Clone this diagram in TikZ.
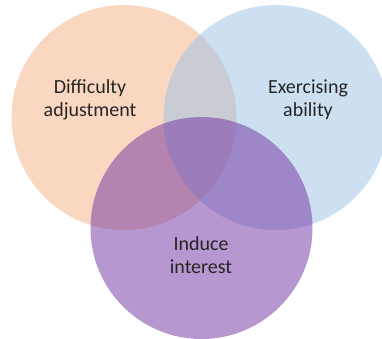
\documentclass[tikz,border=0pt]{standalone}
\usepackage{fontspec}
\setmainfont{Carlito}
\begin{document}
\begin{tikzpicture}[x=1pt,y=-1pt,
  venn/.style={fill opacity=0.5, draw=none},
  label/.style={align=center, text=black!85, font=\fontsize{20}{23}\selectfont}]
\definecolor{vorange}{HTML}{F4B183}
\definecolor{vblue}{HTML}{9DC3E6}
\definecolor{vpurple}{HTML}{7030A0}
\useasboundingbox (0,0) rectangle (382,339);
\fill[white] (0,0) rectangle (382,339);
% three overlapping sets
\fill[venn, vorange] (124,117.5) circle (112.5);
\fill[venn, vblue] (276,117.5) circle (112.5);
\fill[venn, vpurple] (201.5,228) circle (111);
% set labels
\node[label] (diff) at (90,100) {Difficulty\\adjustment};
\node[label] (exer) at (308,100) {Exercising\\ability};
\node[label] (ind) at (201,255) {Induce\\interest};
\end{tikzpicture}
\end{document}
